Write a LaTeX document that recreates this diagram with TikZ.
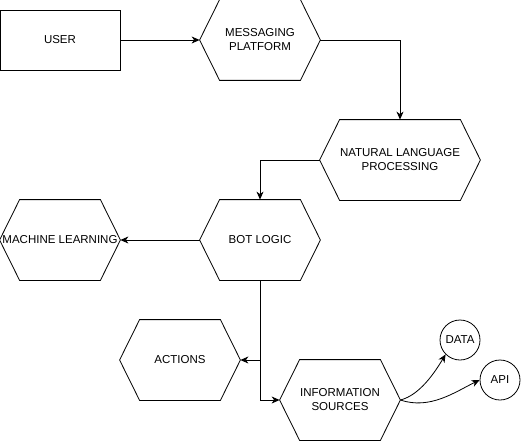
\documentclass[tikz,border=0pt]{standalone}
\usepackage{fontspec}
\setmainfont{Liberation Sans}
\usepackage{tikz}
\usetikzlibrary{calc,arrows.meta}

\tikzset{
  hexbox/.style={minimum width=120pt, minimum height=80pt, inner sep=0pt, align=center},
  widehex/.style={hexbox, minimum width=160pt},
  roundbox/.style={draw, circle, minimum size=40pt, inner sep=0pt},
  link/.style={-{Stealth[length=8pt,width=7pt,inset=2.5pt]}}
}

\begin{document}
\begin{tikzpicture}[x=1pt,y=-1pt,line width=0.8pt,font=\fontsize{11.5}{14}\selectfont]
          \useasboundingbox (0,0) rectangle (521,441);

          \node[draw, minimum width=120pt, minimum height=60pt] (user) at (60,40) {USER};
          \node[hexbox] (msg) at (260,40) {MESSAGING\\PLATFORM};
          \node[widehex] (nlp) at (400,160) {NATURAL LANGUAGE\\PROCESSING};
          \node[hexbox] (bot) at (260,240) {BOT LOGIC};
          \node[hexbox] (ml) at (60,240) {MACHINE LEARNING};
          \node[hexbox] (act) at (180,360) {ACTIONS};
          \node[hexbox] (info) at (340,400) {INFORMATION\\SOURCES};
          \node[roundbox] (data) at (460,340) {DATA};
          \node[roundbox] (api) at (500,380) {API};

          % hexagon outlines
          \foreach \n in {msg,nlp,bot,ml,act,info}
            \draw (\n.west) -- ($(\n.north west)+(20,0)$) -- ($(\n.north east)+(-20,0)$)
              -- (\n.east) -- ($(\n.south east)+(-20,0)$) -- ($(\n.south west)+(20,0)$) -- cycle;

          \coordinate (split) at (bot.south |- act.east);

          \draw[link] (user.east) -- (msg.west);
          \draw[link] (msg.east) -| (nlp.north);
          \draw[link] (nlp.west) -| (bot.north);
          \draw[link] (bot.west) -- (ml.east);
          \draw[link] (bot.south) |- (info.west);
          \draw[link] (split) -- (act.east);
          \draw[link] (info.east) .. controls (420,395) and (435,372) .. (data.225);
          \draw[link] (info.east) .. controls (430,410) and (455,392) .. (api.west);
        \end{tikzpicture}
\end{document}
